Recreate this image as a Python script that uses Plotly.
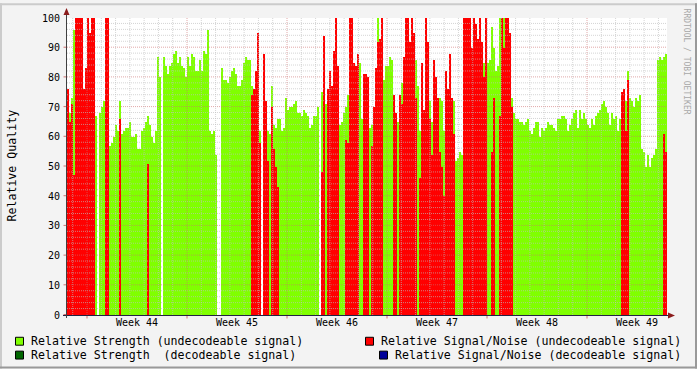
import plotly.graph_objects as go

N = None

week_labels = ["Week 44", "Week 45", "Week 46", "Week 47", "Week 48", "Week 49"]
week_centers = [4.9, 11.9, 18.9, 25.9, 32.9, 39.9]      # days from chart start
week_starts = [1.4, 8.4, 15.4, 22.4, 29.4, 36.4]
y_ticks = [0, 10, 20, 30, 40, 50, 60, 70, 80, 90, 100]
bin_days = 0.14   # one sample every 3.36 hours, 42 days shown

# Relative Strength (undecodeable signal) – light green
strength_undecodeable = [
    66, 68, 73, 96, N, N, N, N, N, 78,
    N, N, 100, 75, 67, N, 68, 70, 72, N,
    65, 57, 58, 60, 64, 62, 72, 61, 62, 63,
    63, 65, 60, 60, 61, 56, 56, 62, 63, 65,
    67, 64, 60, 58, 62, 87, 80, N, 87, 84,
    81, 84, 85, 88, 89, 85, 87, 84, 83, 80,
    87, 84, 88, 87, 82, 82, 86, 82, 89, 88,
    96, 62, 61, 62, 54, N, N, 83, 79, 79,
    78, 80, 82, 83, 81, 77, 77, 79, 85, 87,
    86, 86, 77, 70, 68, N, 62, N, N, N,
    62, 61, 77, 64, 63, 66, 66, 62, 63, 73,
    69, 70, 70, 71, 72, 68, 68, 67, 69, 68,
    67, 63, 64, 67, 67, 70, N, 75, N, 71,
    N, N, 71, N, N, N, 64, 65, 68, 70,
    74, 100, N, N, N, N, 85, 66, N, N,
    63, 63, 64, 65, N, 100, N, 79, 79, 84,
    84, 87, 86, 73, 65, 65, 74, 78, N, N,
    N, N, N, 86, 86, 77, 62, 65, N, N,
    N, 72, 65, N, N, N, 73, 72, 62, N,
    N, N, 70, 72, 52, 53, 55, 54, 100, N,
    N, N, N, N, N, 78, 92, 88, 85, N,
    85, 86, 97, 90, 82, 84, 100, N, 100, N,
    N, 95, 73, 68, 66, 66, 65, 65, 64, 65,
    66, 62, 61, 63, 65, 65, 60, 63, 62, 63,
    65, 64, 64, 63, 62, 66, 66, 67, 67, 66,
    62, 64, 66, 68, 69, 63, 69, 66, 68, 66,
    64, 63, 66, 64, 67, 68, 69, 71, 72, 70,
    68, 64, 68, 66, 67, 62, 66, 58, N, 72,
    82, 73, 72, 70, 73, 72, 74, 56, 55, 50,
    54, 50, 53, 54, 56, 86, 87, 86, 87, 88,
]

# Relative Signal/Noise (undecodeable signal) – red
snr_undecodeable = [
    76, 65, 71, 47, 100, 100, 100, 100, 76, 83,
    100, 95, 100, 100, N, N, N, N, N, 100,
    100, N, N, N, N, N, 66, N, N, N,
    N, N, N, N, N, N, N, N, N, N,
    51, N, N, N, N, N, N, N, N, N,
    N, N, N, N, N, N, N, N, N, N,
    N, N, N, N, N, N, N, N, N, N,
    N, N, N, N, N, N, N, N, N, N,
    N, N, N, N, N, N, N, N, N, N,
    N, N, 74, 76, 82, 95, 58, N, 88, 72,
    52, N, 70, 56, 50, 43, N, N, N, N,
    N, N, N, N, N, N, N, N, N, N,
    N, N, N, N, N, N, N, 48, 94, N,
    76, 82, 77, 89, 100, 84, N, N, N, 59,
    58, 100, 100, 85, 84, 88, N, N, 81, 81,
    80, N, 57, 70, 83, 92, 93, 100, N, N,
    N, N, N, 74, 68, N, 74, 71, 87, 100,
    100, 92, 100, 95, 73, N, 46, 85, 69, 100,
    92, 66, 54, 86, 80, 73, 55, 50, 40, 82,
    76, 88, 73, 61, N, N, N, N, 100, 100,
    100, 100, 90, 100, 98, 93, 100, 92, 80, 100,
    N, N, 55, 73, N, N, 67, 100, 90, 100,
    100, 95, 70, N, N, N, N, N, N, N,
    N, N, N, N, N, N, N, N, N, N,
    N, N, N, N, N, N, N, N, N, N,
    N, N, N, N, N, N, N, N, N, N,
    N, N, N, N, N, N, N, N, N, N,
    N, N, N, N, N, N, N, 75, 76, 62,
    79, N, N, N, N, N, N, N, N, N,
    N, N, N, N, N, N, N, N, 61, 55,
]

legend_names = [
    "Relative Strength (undecodeable signal)",
    "Relative Signal/Noise (undecodeable signal)",
    "Relative Strength\u00a0 (decodeable signal)",
    "Relative Signal/Noise (decodeable signal)",
]
legend_colors = ["#80FF00", "#FF0000", "#006600", "#000099"]

x_days = [(i + 0.5) * bin_days for i in range(len(strength_undecodeable))]

W, H = 697, 369
L, T, PW, PH = 67, 15, 600, 300
FONT = "DejaVu Sans Mono"


def px(xp):
    return (xp - L) / PW


def py(yp):
    return (T + PH - yp) / PH


fig = go.Figure()
fig.add_trace(go.Bar(x=x_days, y=strength_undecodeable, width=bin_days,
                     marker=dict(color="#80FF00", line=dict(width=0)),
                     name=legend_names[0], showlegend=False, hoverinfo="skip"))
fig.add_trace(go.Bar(x=x_days, y=snr_undecodeable, width=bin_days,
                     marker=dict(color="#FF0000", line=dict(width=0)),
                     name=legend_names[1], showlegend=False, hoverinfo="skip"))

shapes = []
minor_col = "rgba(190,190,190,0.65)"
major_col = "rgba(205,110,110,0.6)"
dash = "1px,1px"
# horizontal grid
for v in range(2, 101, 2):
    major = v % 10 == 0
    yv = v + 1.0 / 6
    shapes.append(dict(type="line", xref="x", yref="y", x0=0, x1=42, y0=yv, y1=yv,
                       line=dict(color=major_col if major else minor_col, width=1, dash=dash),
                       layer="above"))
# vertical grid
for k in range(42):
    d = 0.4 + k
    major = any(abs(d - w) < 1e-6 for w in week_starts)
    shapes.append(dict(type="line", xref="x", yref="y", x0=d, x1=d, y0=0, y1=100,
                       line=dict(color=major_col if major else minor_col, width=1, dash=dash),
                       layer="above"))
# ticks below x axis at week starts
for w in week_starts:
    shapes.append(dict(type="line", xref="x", yref="paper", x0=w, x1=w,
                       y0=py(315), y1=py(318.5), line=dict(color="#D07070", width=1)))
# left ticks
for v in y_ticks:
    shapes.append(dict(type="line", xref="paper", yref="y", x0=px(63.5), x1=px(67),
                       y0=v + 1.0 / 6, y1=v + 1.0 / 6, line=dict(color="#D07070", width=1)))
# axes lines
shapes.append(dict(type="line", xref="paper", yref="paper", x0=px(63), x1=px(670),
                   y0=py(315.5), y1=py(315.5), line=dict(color="#202040", width=1), layer="above"))
shapes.append(dict(type="line", xref="paper", yref="paper", x0=px(66.5), x1=px(66.5),
                   y0=py(318), y1=py(9), line=dict(color="#404040", width=1), layer="above"))
# arrows
shapes.append(dict(type="path", xref="paper", yref="paper",
                   path=f"M {px(63.5)} {py(12)} L {px(69.5)} {py(12)} L {px(66.5)} {py(5)} Z",
                   fillcolor="#8B1C1C", line=dict(width=0), layer="above"))
shapes.append(dict(type="path", xref="paper", yref="paper",
                   path=f"M {px(668)} {py(312.5)} L {px(668)} {py(318.5)} L {px(675)} {py(315.5)} Z",
                   fillcolor="#8B1C1C", line=dict(width=0), layer="above"))
# legend squares
sq = [(15, 337, 0), (365, 337, 1), (15, 351, 2), (379, 351, 3)]
for x0, y0, idx in sq:
    shapes.append(dict(type="rect", xref="paper", yref="paper",
                       x0=px(x0 + 0.5), x1=px(x0 + 8.5), y0=py(y0 + 0.5), y1=py(y0 + 8.5),
                       fillcolor=legend_colors[idx], line=dict(color="#000000", width=1)))
# outer 3D border
shapes += [
    dict(type="rect", xref="paper", yref="paper", x0=px(0), x1=px(W), y0=py(0), y1=py(2),
         fillcolor="#CBCBCB", line=dict(width=0)),
    dict(type="rect", xref="paper", yref="paper", x0=px(0), x1=px(2), y0=py(0), y1=py(H),
         fillcolor="#CBCBCB", line=dict(width=0)),
    dict(type="rect", xref="paper", yref="paper", x0=px(0), x1=px(W), y0=py(H - 2), y1=py(H),
         fillcolor="#999999", line=dict(width=0)),
    dict(type="rect", xref="paper", yref="paper", x0=px(W - 2), x1=px(W), y0=py(0), y1=py(H),
         fillcolor="#999999", line=dict(width=0)),
]

annotations = []
leg_text_pos = [(29, 341, 0), (379, 341, 1), (29, 355, 2), (393, 355, 3)]
for x0, yc, idx in leg_text_pos:
    annotations.append(dict(xref="paper", yref="paper", x=px(x0), y=py(yc), text=legend_names[idx],
                            showarrow=False, xanchor="left", yanchor="middle",
                            font=dict(family=FONT, size=11.6, color="#000000")))
annotations.append(dict(xref="paper", yref="paper", x=px(12), y=py(164), text="Relative Quality",
                        showarrow=False, textangle=-90, xanchor="center", yanchor="middle",
                        font=dict(family=FONT, size=11.6, color="#000000")))
annotations.append(dict(xref="paper", yref="paper", x=px(686), y=py(59), text="RRDTOOL / TOBI OETIKER",
                        showarrow=False, textangle=90, xanchor="center", yanchor="middle",
                        font=dict(family=FONT, size=8, color="#A8A8A8")))

fig.update_layout(
    width=W, height=H, autosize=False,
    margin=dict(l=L, r=W - L - PW, t=T, b=H - T - PH, pad=0),
    paper_bgcolor="#F3F3F3", plot_bgcolor="#FFFFFF",
    barmode="overlay", bargap=0, showlegend=False,
    shapes=shapes, annotations=annotations,
    xaxis=dict(range=[0, 42], showgrid=False, zeroline=False, showline=False,
               tickmode="array", tickvals=week_centers, ticktext=week_labels, ticks="",
               tickfont=dict(family=FONT, size=10, color="#000000"), fixedrange=True),
    yaxis=dict(range=[0, 100], showgrid=False, zeroline=False, showline=False,
               tickmode="array", tickvals=y_ticks, ticks="", ticklabelstandoff=6,
               tickfont=dict(family=FONT, size=10, color="#000000"), fixedrange=True),
)

fig.write_html("out.html")
